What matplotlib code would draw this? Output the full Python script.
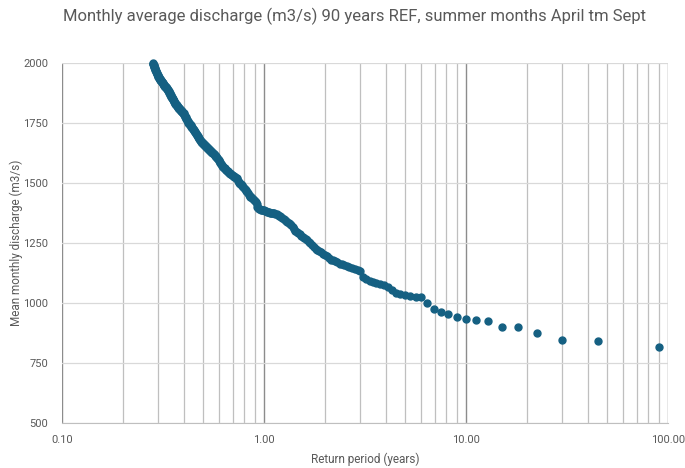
import numpy as np
import matplotlib
matplotlib.use("Agg")
import matplotlib.pyplot as plt
from matplotlib.ticker import FixedLocator, FuncFormatter

# Record length (years) and monthly discharges sorted from lowest (rank 1) upward
n_years = 90
discharge = [
    818, 840, 846, 877, 899, 901, 926, 929, 933, 943,
    954, 964, 974, 999, 1024, 1026, 1028, 1032, 1036, 1042,
    1055, 1068, 1075, 1079, 1082, 1087, 1093, 1100, 1107, 1134,
    1139, 1143, 1147, 1150, 1153, 1157, 1161, 1164, 1170, 1174,
    1178, 1181, 1188, 1196, 1202, 1206, 1213, 1218, 1222, 1226,
    1234, 1242, 1248, 1255, 1263, 1267, 1271, 1276, 1281, 1286,
    1291, 1296, 1302, 1308, 1316, 1324, 1330, 1333, 1337, 1341,
    1345, 1350, 1354, 1358, 1361, 1364, 1367, 1369, 1371, 1373,
    1374, 1375, 1376, 1377, 1379, 1380, 1381, 1382, 1384, 1386,
    1387, 1388, 1389, 1391, 1393, 1396, 1401, 1412, 1419, 1425,
    1429, 1433, 1436, 1440, 1443, 1446, 1451, 1457, 1462, 1466,
    1471, 1475, 1480, 1485, 1488, 1491, 1494, 1497, 1500, 1504,
    1509, 1515, 1519, 1522, 1524, 1526, 1528, 1530, 1532, 1534,
    1536, 1538, 1540, 1543, 1545, 1548, 1551, 1553, 1556, 1558,
    1561, 1563, 1566, 1568, 1572, 1576, 1580, 1584, 1588, 1592,
    1596, 1599, 1603, 1606, 1610, 1612, 1614, 1617, 1619, 1621,
    1624, 1626, 1628, 1630, 1632, 1635, 1637, 1639, 1641, 1643,
    1645, 1647, 1649, 1651, 1653, 1655, 1657, 1659, 1661, 1663,
    1665, 1667, 1670, 1672, 1675, 1678, 1681, 1684, 1687, 1690,
    1693, 1696, 1699, 1702, 1705, 1708, 1711, 1714, 1716, 1719,
    1721, 1724, 1727, 1729, 1732, 1734, 1737, 1740, 1742, 1745,
    1747, 1750, 1752, 1755, 1758, 1761, 1764, 1768, 1771, 1774,
    1777, 1780, 1784, 1787, 1790, 1792, 1793, 1795, 1797, 1799,
    1800, 1802, 1804, 1806, 1807, 1809, 1811, 1813, 1814, 1816,
    1818, 1820, 1821, 1823, 1825, 1828, 1830, 1833, 1835, 1838,
    1840, 1843, 1845, 1848, 1850, 1853, 1855, 1858, 1860, 1863,
    1866, 1868, 1871, 1874, 1876, 1879, 1882, 1884, 1887, 1889,
    1891, 1892, 1894, 1896, 1898, 1899, 1901, 1903, 1905, 1906,
    1908, 1910, 1912, 1913, 1915, 1917, 1919, 1921, 1922, 1924,
    1926, 1928, 1930, 1931, 1933, 1935, 1937, 1939, 1940, 1942,
    1944, 1947, 1950, 1953, 1956, 1959, 1962, 1965, 1968, 1970,
    1973, 1976, 1979, 1982, 1985, 1988, 1991, 1994, 1997, 2000,
]
y_ticks = [500, 750, 1000, 1250, 1500, 1750, 2000]
x_ticks = [0.1, 1, 10, 100]

rank = np.arange(1, len(discharge) + 1)
return_period = n_years / rank

plt.rcParams['font.family'] = ['Roboto', 'DejaVu Sans']
text_grey = '#595959'

fig = plt.figure(figsize=(6.85, 4.68), dpi=100)
ax = fig.add_axes([0.0905, 0.0962, 0.8847, 0.7692])

ax.plot(return_period, discharge, 'o', color='#156082', ms=5.0, mec='#156082',
        clip_on=False, zorder=3)

ax.set_xscale('log')
ax.set_xlim(0.1, 100)
ax.set_ylim(500, 2000)

ax.xaxis.set_major_locator(FixedLocator(x_ticks))
minors = [m * d for d in [0.1, 1, 10] for m in range(2, 10)]
ax.xaxis.set_minor_locator(FixedLocator(minors))
ax.xaxis.set_major_formatter(FuncFormatter(lambda v, p: f"{v:.2f}"))
ax.xaxis.set_minor_formatter(FuncFormatter(lambda v, p: ""))
ax.set_yticks(y_ticks)

ax.grid(True, which='major', axis='x', color='#8C8C8C', lw=1.0)
ax.grid(True, which='minor', axis='x', color='#BFBFBF', lw=0.9)
ax.grid(True, which='major', axis='y', color='#D9D9D9', lw=0.9)
ax.set_axisbelow(True)

for s in ['top', 'right', 'left']:
    ax.spines[s].set_visible(False)
ax.spines['bottom'].set_color('#BFBFBF')
ax.tick_params(which='both', length=0, colors=text_grey, labelsize=8)
ax.tick_params(axis='x', pad=9)
ax.tick_params(axis='y', pad=10)

ax.set_xlabel('Return period (years)', fontsize=8.5, color=text_grey, labelpad=5)
ax.set_ylabel('Mean monthly discharge (m3/s)', fontsize=8.5, color=text_grey, labelpad=0)

fig.text(0.518, 0.966, 'Monthly average discharge (m3/s) 90 years REF, summer months April tm Sept',
         ha='center', va='center', fontsize=12, color=text_grey)

fig.savefig('out.png', dpi=100)
